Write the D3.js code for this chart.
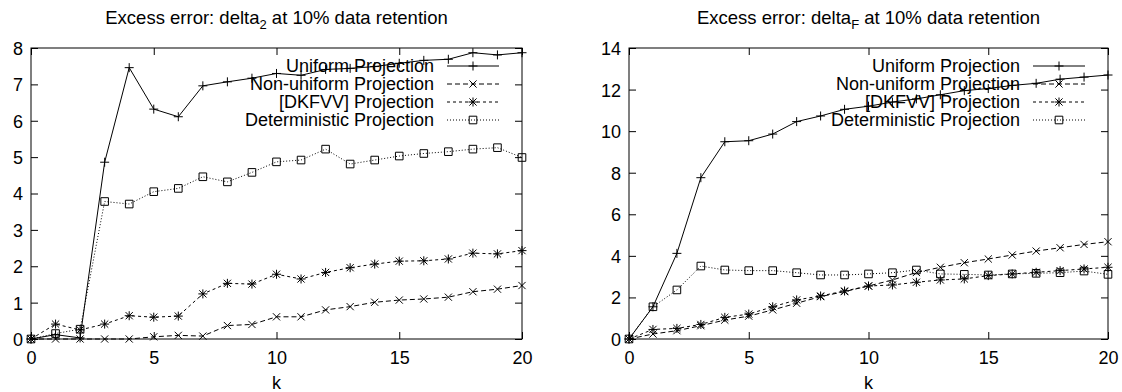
<!DOCTYPE html>
<html>
<head>
<meta charset="utf-8">
<script src="https://cdn.jsdelivr.net/npm/d3@7"></script>
<style>
  body { margin: 0; background: #fff; }
  svg { display: block; }
  text { font-family: "Liberation Sans", Arial, sans-serif; fill: #000; }
</style>
</head>
<body>
<div id="chart"></div>
<script>
// k values (x axis)
var ks = [0,1,2,3,4,5,6,7,8,9,10,11,12,13,14,15,16,17,18,19,20];

// left panel: delta_2
var uniform2 = [0,0.12,0.03,4.86,7.46,6.32,6.11,6.96,7.07,7.17,7.3,7.25,7.41,7.44,7.49,7.58,7.66,7.69,7.87,7.81,7.87];
var nonuni2  = [0,0,0,0,0,0.06,0.1,0.08,0.37,0.4,0.61,0.61,0.8,0.89,1.01,1.07,1.1,1.15,1.3,1.37,1.47];
var dkfvv2   = [0,0.41,0.25,0.41,0.64,0.6,0.63,1.24,1.53,1.51,1.78,1.65,1.83,1.96,2.06,2.14,2.15,2.2,2.36,2.34,2.43];
var determ2  = [0,0.15,0.27,3.78,3.71,4.05,4.14,4.46,4.32,4.58,4.87,4.92,5.22,4.81,4.92,5.03,5.1,5.15,5.22,5.26,4.99];

// right panel: delta_F
var uniformF = [0,1.55,4.12,7.76,9.49,9.54,9.86,10.46,10.73,11.05,11.2,11.4,11.55,11.75,11.95,12.05,12.2,12.3,12.5,12.6,12.7];
var nonuniF  = [0,0.24,0.4,0.64,0.91,1.1,1.4,1.72,2.04,2.28,2.55,2.84,3.2,3.45,3.67,3.85,4.04,4.23,4.39,4.55,4.68];
var dkfvvF   = [0,0.46,0.51,0.7,1.04,1.2,1.55,1.88,2.07,2.31,2.55,2.6,2.73,2.84,2.89,3.05,3.13,3.21,3.29,3.37,3.45];
var determF  = [0,1.55,2.36,3.51,3.32,3.29,3.29,3.19,3.08,3.08,3.13,3.19,3.32,3.13,3.11,3.08,3.13,3.16,3.19,3.27,3.11];

var seriesNames = ["Uniform Projection", "Non-uniform Projection", "[DKFVV] Projection", "Deterministic Projection"];
var xTicks = [0,5,10,15,20];
var yTicks2 = [0,1,2,3,4,5,6,7,8];
var yTicksF = [0,2,4,6,8,10,12,14];

// gnuplot-ish line types
var dashes = [null, "5,3", "3,3", "1,2"];
var markers = ["plus", "cross", "star", "box"];

var svg = d3.select("#chart").append("svg")
    .attr("width", 1122)
    .attr("height", 392);

function marker(g, type, cx, cy) {
  var s = 4.5, c = 3.6, b = 3.8, p;
  if (type == "plus") p = "M" + (cx-s) + "," + cy + "h" + (2*s) + "M" + cx + "," + (cy-s) + "v" + (2*s);
  else if (type == "cross") p = "M" + (cx-c) + "," + (cy-c) + "l" + (2*c) + "," + (2*c) + "M" + (cx-c) + "," + (cy+c) + "l" + (2*c) + "," + (-2*c);
  else if (type == "star") p = "M" + (cx-s) + "," + cy + "h" + (2*s) + "M" + cx + "," + (cy-s) + "v" + (2*s) +
        "M" + (cx-c) + "," + (cy-c) + "l" + (2*c) + "," + (2*c) + "M" + (cx-c) + "," + (cy+c) + "l" + (2*c) + "," + (-2*c);
  else p = "M" + (cx-b) + "," + (cy-b) + "h" + (2*b) + "v" + (2*b) + "h" + (-2*b) + "Z";
  g.append("path").attr("d", p).attr("fill", "none").attr("stroke", "#000").attr("stroke-width", 1);
}

function panel(opt) {
  var x = d3.scaleLinear().domain([0, 20]).range([opt.left, opt.right]);
  var y = d3.scaleLinear().domain([0, opt.ymax]).range([339, 48]);
  var g = svg.append("g");

  // ticks on all four sides, pointing inward
  g.append("g").attr("transform", "translate(0,339)")
      .call(d3.axisBottom(x).tickValues(xTicks).tickSize(-7).tickSizeOuter(0).tickPadding(12));
  g.append("g").attr("transform", "translate(0,48)")
      .call(d3.axisTop(x).tickValues(xTicks).tickSize(-7).tickSizeOuter(0).tickFormat(""));
  var ay = g.append("g").attr("transform", "translate(" + opt.left + ",0)")
      .call(d3.axisLeft(y).tickValues(opt.yTicks).tickSize(-7).tickSizeOuter(0).tickPadding(8));
  g.append("g").attr("transform", "translate(" + opt.right + ",0)")
      .call(d3.axisRight(y).tickValues(opt.yTicks).tickSize(-7).tickSizeOuter(0).tickFormat(""));
  g.selectAll(".domain").remove();
  g.selectAll(".tick line").attr("stroke", "#000");
  g.selectAll(".tick text").style("font-size", "18px").attr("font-family", null);
  ay.selectAll(".tick text").attr("dy", "0.36em");

  g.append("rect")
      .attr("x", opt.left).attr("y", 48)
      .attr("width", opt.right - opt.left).attr("height", 291)
      .attr("fill", "none").attr("stroke", "#000").attr("stroke-width", 1);

  // title with subscript
  var t = g.append("text").attr("x", (opt.left + opt.right) / 2).attr("y", 24)
      .attr("text-anchor", "middle").style("font-size", "18.5px");
  t.append("tspan").text("Excess error: delta");
  t.append("tspan").text(opt.sub).attr("dy", 5).style("font-size", "13px");
  t.append("tspan").text(" at 10% data retention").attr("dy", -5);

  g.append("text").attr("x", (opt.left + opt.right) / 2).attr("y", 389)
      .attr("text-anchor", "middle").style("font-size", "18px").text("k");

  var line = d3.line().x(function(d) { return x(d[0]); }).y(function(d) { return y(d[1]); });

  opt.series.forEach(function(vals, i) {
    var pts = ks.map(function(k, j) { return [k, vals[j]]; });
    var sg = g.append("g");
    // legend entry
    var ly = 66 + i * 18;
    sg.append("text").attr("x", opt.right - 88).attr("y", ly + 6)
        .attr("text-anchor", "end").style("font-size", "18px").text(seriesNames[i]);
    sg.append("line")
        .attr("x1", opt.right - 75).attr("x2", opt.right - 23)
        .attr("y1", ly).attr("y2", ly)
        .attr("stroke", "#000").attr("stroke-width", 1)
        .attr("stroke-dasharray", dashes[i]);
    marker(sg, markers[i], opt.right - 49, ly);

    sg.append("path").datum(pts)
        .attr("d", line)
        .attr("fill", "none").attr("stroke", "#000").attr("stroke-width", 1)
        .attr("stroke-dasharray", dashes[i]);
    pts.forEach(function(d) { marker(sg, markers[i], x(d[0]), y(d[1])); });
  });
}

panel({left: 31, right: 522, ymax: 8, yTicks: yTicks2, sub: "2",
       series: [uniform2, nonuni2, dkfvv2, determ2]});
panel({left: 629, right: 1108, ymax: 14, yTicks: yTicksF, sub: "F",
       series: [uniformF, nonuniF, dkfvvF, determF]});
</script>
</body>
</html>
